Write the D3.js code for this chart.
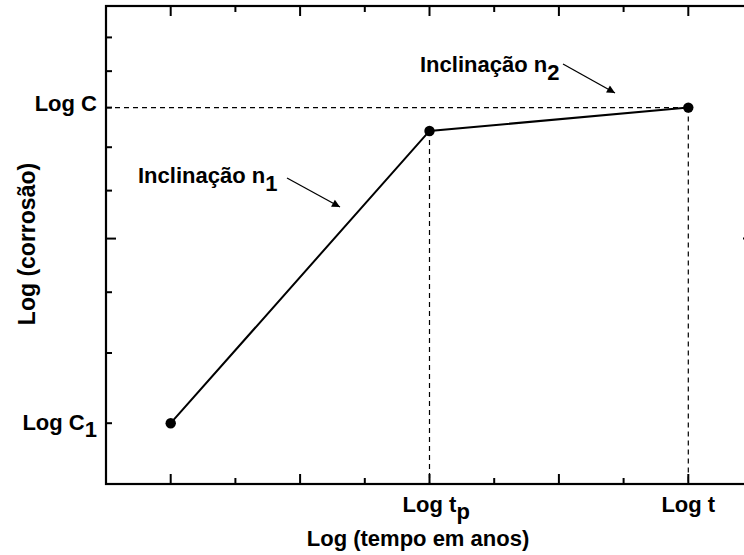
<!DOCTYPE html>
<html>
<head>
<meta charset="utf-8">
<script src="https://cdn.jsdelivr.net/npm/d3@7"></script>
<style>
  html, body { margin: 0; padding: 0; background: #fff; overflow: hidden; }
  svg { display: block; }
  text { font-family: "Liberation Sans", Arial, Helvetica, sans-serif; font-weight: bold; fill: #000; }
</style>
</head>
<body>
<script>
// ---- data ----
const xValues = [1, 5, 9];          // log time (arbitrary units)
const yValues = [6, 11.4, 12];      // log corrosion (arbitrary units)
const xTicks = [1, 2, 3, 4, 5, 6, 7, 8, 9];
const xMajorTicks = [1, 3, 5, 7, 9];
const yTicks = [6, 7, 8, 9, 10, 11, 12, 13, 14];
const yMajorTicks = [9];
const yTickLabels = [{ v: 12, main: "Log C", sub: "" }, { v: 6, main: "Log C", sub: "1" }];
const xTickLabels = [{ v: 5, main: "Log t", sub: "p" }, { v: 9, main: "Log t", sub: "" }];
const xTitle = "Log (tempo em anos)";
const yTitle = "Log (corrosão)";
const slopeLabels = [{ main: "Inclinação n", sub: "1" }, { main: "Inclinação n", sub: "2" }];

// ---- layout ----
const W = 744, H = 555;
const mLeft = 106, mRight = 753, mTop = 6, mBottom = 484;

const svg = d3.select("body").append("svg").attr("width", W).attr("height", H);

const x = d3.scaleLinear().domain([0, 10]).range([mLeft, mRight]);
const y = d3.scaleLog().domain([5.25, 15]).range([mBottom, mTop]);

const major = 10, minor = 6;

// frame
svg.append("rect").attr("x", mLeft).attr("y", mTop).attr("width", mRight - mLeft).attr("height", mBottom - mTop)
  .attr("fill", "none").attr("stroke", "#000").attr("stroke-width", 2.2);

// ticks (inward on all four sides)
const tk = svg.append("g").attr("stroke", "#000").attr("stroke-width", 2);
xTicks.forEach(v => {
  const len = xMajorTicks.includes(v) ? major : minor;
  tk.append("line").attr("x1", x(v)).attr("x2", x(v)).attr("y1", mBottom).attr("y2", mBottom - len);
  tk.append("line").attr("x1", x(v)).attr("x2", x(v)).attr("y1", mTop).attr("y2", mTop + len);
});
yTicks.forEach(v => {
  const len = yMajorTicks.includes(v) ? major : minor;
  tk.append("line").attr("x1", mLeft).attr("x2", mLeft + len).attr("y1", y(v)).attr("y2", y(v));
  tk.append("line").attr("x1", mRight).attr("x2", mRight - len).attr("y1", y(v)).attr("y2", y(v));
});

// dashed guide lines
const dash = svg.append("g").attr("stroke", "#000").attr("stroke-width", 1.2).attr("stroke-dasharray", "5,4");
dash.append("line").attr("x1", mLeft).attr("x2", x(xValues[2])).attr("y1", y(yValues[2])).attr("y2", y(yValues[2]));
dash.append("line").attr("x1", x(xValues[1])).attr("x2", x(xValues[1])).attr("y1", y(yValues[1])).attr("y2", mBottom);
dash.append("line").attr("x1", x(xValues[2])).attr("x2", x(xValues[2])).attr("y1", y(yValues[2])).attr("y2", mBottom);

// data line
const pts = xValues.map((v, i) => [v, yValues[i]]);
svg.append("path").datum(pts)
  .attr("d", d3.line().x(d => x(d[0])).y(d => y(d[1])))
  .attr("fill", "none").attr("stroke", "#000").attr("stroke-width", 2);
svg.selectAll("circle.pt").data(pts).enter().append("circle")
  .attr("cx", d => x(d[0])).attr("cy", d => y(d[1])).attr("r", 5.2).attr("fill", "#000");

// y tick labels (right aligned to the left of axis)
const yLabelDy = [3, 7];
yTickLabels.forEach((d, i) => {
  const t = svg.append("text").attr("x", mLeft - 9).attr("y", y(d.v) + yLabelDy[i]).attr("text-anchor", "end").style("font-size", "22px");
  t.append("tspan").text(d.main);
  if (d.sub) t.append("tspan").attr("dy", 7).text(d.sub);
});

// x tick labels ("Log t" centred on the tick, subscript appended)
xTickLabels.forEach(d => {
  const t = svg.append("text").attr("x", x(d.v)).attr("y", mBottom + 28).style("font-size", "22px");
  const main = t.append("tspan").text(d.main);
  if (d.sub) t.append("tspan").attr("dy", 7).text(d.sub);
  const w = main.node().getComputedTextLength();
  t.attr("x", x(d.v) - w / 2);
});

// axis titles
svg.append("text").attr("x", 418).attr("y", 546).attr("text-anchor", "middle").style("font-size", "22px").text(xTitle);
svg.append("text").attr("transform", "translate(35,244) rotate(-90)").attr("text-anchor", "middle").style("font-size", "23px").text(yTitle);

// slope annotations
const defs = svg.append("defs");
defs.append("marker").attr("id", "ah").attr("viewBox", "0 0 10 10").attr("refX", 10).attr("refY", 5)
  .attr("markerWidth", 14).attr("markerHeight", 8).attr("markerUnits", "userSpaceOnUse").attr("orient", "auto")
  .append("path").attr("d", "M0,0 L10,5 L0,10 Z").attr("fill", "#000");

const ann = [
  { tx: 138, ty: 183, ax1: 287, ay1: 178, ax2: 340, ay2: 207 },
  { tx: 420, ty: 72, ax1: 563, ay1: 64, ax2: 615, ay2: 93 }
];
ann.forEach((a, i) => {
  const t = svg.append("text").attr("x", a.tx).attr("y", a.ty).style("font-size", "22px");
  t.append("tspan").text(slopeLabels[i].main);
  t.append("tspan").attr("dy", 8).text(slopeLabels[i].sub);
  svg.append("line").attr("x1", a.ax1).attr("y1", a.ay1).attr("x2", a.ax2).attr("y2", a.ay2)
    .attr("stroke", "#000").attr("stroke-width", 1.3).attr("marker-end", "url(#ah)");
});
</script>
</body>
</html>
